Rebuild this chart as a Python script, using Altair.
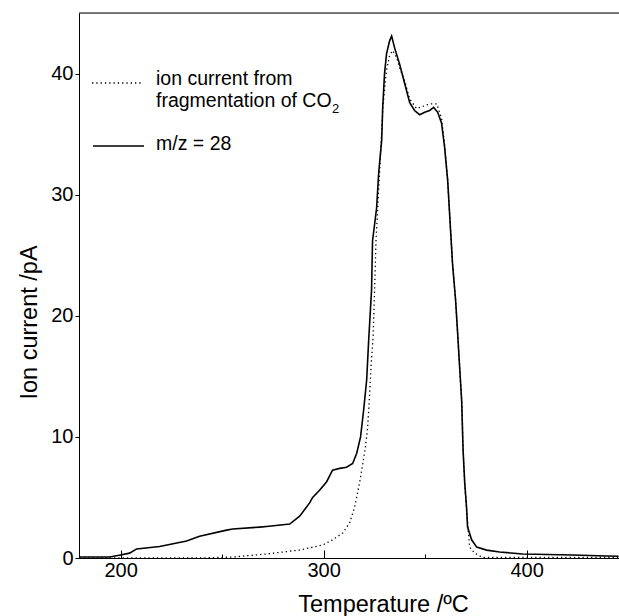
import altair as alt
import pandas as pd

# m/z = 28 (solid)
temp_m28 = [179.8, 194.6, 200.0, 204.4, 207.9, 219.2, 232.5, 238.9, 252.2, 255.2, 268.5, 271.9,
            283.3, 288.2, 293.1, 294.6, 298.0, 301.5, 304.4, 307.9, 311.3, 314.3, 316.3, 318.2,
            319.7, 321.2, 322.2, 323.6, 324.1, 326.1, 327.1, 328.6, 329.1, 330.0, 331.0, 332.5,
            333.5, 335.0, 337.4, 339.9, 342.4, 344.8, 347.3, 349.8, 352.2, 354.2, 356.2, 358.1,
            359.6, 361.1, 362.1, 363.5, 365.0, 366.0, 367.0, 368.0, 368.7, 369.5, 370.4, 370.9,
            372.9, 375.4, 380.3, 386.7, 398.0, 422.7, 439.4, 445.3]
current_m28 = [0.08, 0.08, 0.25, 0.4, 0.75, 0.95, 1.4, 1.8, 2.3, 2.4, 2.55, 2.6,
               2.8, 3.45, 4.55, 5.0, 5.6, 6.3, 7.25, 7.4, 7.5, 7.8, 8.65, 10.0,
               12.2, 14.7, 18.0, 22.1, 26.2, 28.9, 31.75, 34.5, 37.2, 40.0, 41.65, 42.7,
               43.1, 42.1, 40.8, 39.2, 37.6, 36.95, 36.6, 36.8, 36.95, 37.2, 36.8, 35.9,
               33.9, 31.2, 28.3, 24.3, 21.3, 18.6, 15.75, 13.0, 8.9, 6.2, 4.2, 2.55,
               1.5, 0.9, 0.65, 0.5, 0.33, 0.25, 0.17, 0.15]

# ion current from fragmentation of CO2 (dotted)
temp_co2 = [179.8, 238.9, 255.2, 271.9, 288.2, 299.5, 304.4, 309.4, 312.8, 315.3, 317.7, 319.4,
            320.7, 321.7, 322.7, 323.5, 324.3, 325.1, 325.8, 327.1, 328.4, 329.2, 330.9, 332.5,
            334.0, 336.0, 337.4, 339.9, 342.4, 345.8, 350.7, 353.2, 355.7, 358.1, 359.6, 361.1,
            362.1, 363.5, 365.0, 366.0, 367.0, 368.0, 368.7, 369.5, 370.4, 371.9, 374.4, 378.3,
            445.3]
current_co2 = [0.0, 0.0, 0.08, 0.33, 0.66, 1.07, 1.5, 2.06, 2.9, 4.2, 6.2, 7.9,
               9.3, 10.8, 13.7, 16.2, 18.0, 22.1, 26.2, 30.35, 34.5, 37.2, 40.2, 41.5,
               41.9, 41.3, 40.5, 39.4, 37.9, 37.1, 37.4, 37.5, 37.5, 36.3, 34.1, 31.2,
               28.3, 24.3, 21.3, 18.6, 15.75, 13.0, 8.9, 6.2, 4.0, 0.9, 0.4, 0.05,
               0.05]

x_ticks = [200, 250, 300, 350, 400]
y_ticks = [0, 10, 20, 30, 40]

FONT = "Liberation Sans"
W, H = 540, 545

df_s = pd.DataFrame({"T": temp_m28, "I": current_m28})
df_d = pd.DataFrame({"T": temp_co2, "I": current_co2})
one = pd.DataFrame({"k": [0]})

xscale = alt.Scale(domain=[179.5, 445.5], nice=False, zero=False)
yscale = alt.Scale(domain=[0, 45], nice=False)

xaxis = alt.Axis(
    values=x_ticks, format="d",
    labelExpr="datum.value % 100 == 0 ? datum.label : ''",
    tickSize={"condition": {"test": "datum.value % 100 == 0", "value": -8}, "value": -4},
    labelPadding=10, labelFontSize=20, labelFont=FONT, labelColor="black",
    title="Temperature /ºC", titleFontSize=23.5, titleFont=FONT, titleFontWeight="normal",
    titleColor="black", titleX=304, titleY=53, titleAlign="center",
    titleBaseline="alphabetic", grid=False,
    domainColor="black", tickColor="black", labelFlush=False,
)
yaxis = alt.Axis(
    values=y_ticks, tickSize=4, labelPadding=2, labelFontSize=20, labelFont=FONT,
    labelColor="black", title="Ion current /pA", titleFontSize=23.5, titleFont=FONT,
    titleFontWeight="normal", titleColor="black", titleX=-50, titleY=309,
    titleAngle=-90, titleAlign="center", titleBaseline="middle", grid=False,
    domainColor="black", tickColor="black",
)

solid = alt.Chart(df_s).mark_line(color="black", strokeWidth=1.6).encode(
    x=alt.X("T:Q", scale=xscale, axis=xaxis),
    y=alt.Y("I:Q", scale=yscale, axis=yaxis),
)
dotted = alt.Chart(df_d).mark_line(color="black", strokeWidth=1.3, strokeDash=[1.3, 3]).encode(
    x=alt.X("T:Q", scale=xscale),
    y=alt.Y("I:Q", scale=yscale),
)

top_rule = alt.Chart(one).mark_rule(color="black", strokeWidth=1).encode(
    x=alt.value(0), x2=alt.value(W), y=alt.value(0)
)

leg_dot = alt.Chart(one).mark_rule(color="black", strokeWidth=1.3, strokeDash=[1.3, 3]).encode(
    x=alt.value(13), x2=alt.value(64), y=alt.value(70)
)
leg_solid = alt.Chart(one).mark_rule(color="black", strokeWidth=1.4).encode(
    x=alt.value(14), x2=alt.value(65), y=alt.value(133)
)

def txt(s, x, y, size=19.5):
    return alt.Chart(one).mark_text(
        align="left", baseline="alphabetic", font=FONT, fontSize=size, color="black"
    ).encode(x=alt.value(x), y=alt.value(y), text=alt.value(s))

legend = (
    txt("ion current from", 77, 72)
    + txt("fragmentation of CO", 77, 94)
    + txt("2", 253, 100, 13)
    + txt("m/z = 28", 77, 137)
)

chart = alt.layer(solid, dotted, top_rule, leg_dot, leg_solid, legend).properties(
    width=W, height=H,
    autosize=alt.AutoSizeParams(type="none"),
    padding={"left": 79, "top": 13, "right": 0, "bottom": 58},
).configure_view(stroke=None).configure(background="white")

chart.save("out.html", embed_options={"renderer": "svg", "actions": False})
